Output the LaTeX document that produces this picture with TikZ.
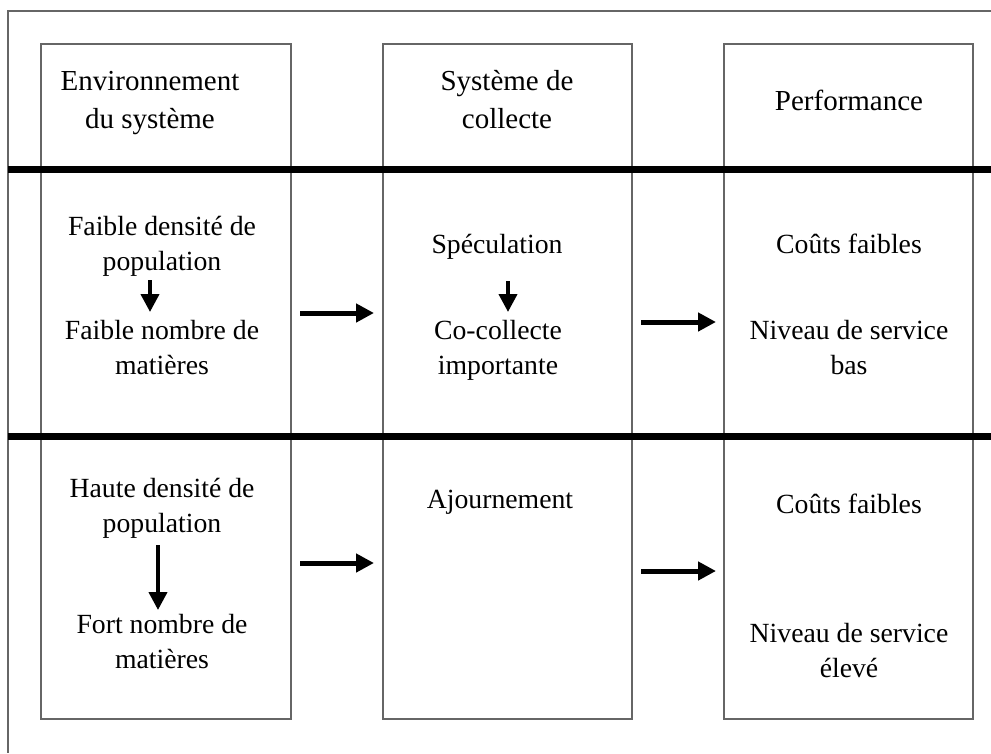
\documentclass[tikz,border=0pt]{standalone}
\usepackage{fontspec}
\setmainfont{Liberation Serif}
\usetikzlibrary{arrows.meta}

\tikzset{
  colbox/.style={draw=black!60, line width=1pt},
  sepline/.style={line width=5.25pt},
  harr/.style={line width=3.75pt, -{Triangle[length=13.5pt,width=13.5pt]}},
  varr/.style={line width=3pt, -{Triangle[length=13.5pt,width=13.5pt]}},
  hd/.style={align=center, anchor=base, inner sep=0pt, font=\fontsize{21.75}{28.5}\selectfont},
  txt/.style={align=center, anchor=base, inner sep=0pt, font=\fontsize{20.8}{26.25}\selectfont},
}

\begin{document}
\begin{tikzpicture}[x=0.75pt,y=-0.75pt]
\useasboundingbox (0,0) rectangle (991,753);
%\draw[step=50,gray,very thin] (0,0) grid (991,753);
\draw[draw=black!60, line width=0.9pt] (991,11) -- (8,11) -- (8,753);

% the three columns
\draw[colbox] (41,44) rectangle (291,719);
\draw[colbox] (383,44) rectangle (632,719);
\draw[colbox] (724,44) rectangle (973,719);

\draw[sepline] (8,169.5) -- (991,169.5);
\draw[sepline] (8,436) -- (991,436);

% headers (y = baseline of the last line)
\node[hd] (env) at (150,128) {Environnement\\du système};
\node[hd] (sys) at (507,128) {Système de\\collecte};
\node[hd] (perf) at (849,110) {Performance};

% first row
\node[txt] (fd1) at (162,270) {Faible densité de\\population};
\node[txt] (fn1) at (162,374) {Faible nombre de\\matières};
\node[txt] (spec) at (497,253) {Spéculation};
\node[txt] (cocol) at (498,374) {Co-collecte\\importante};
\node[txt] (couts1) at (849,253) {Coûts faibles};
\node[txt] (niv1) at (849,374) {Niveau de service\\bas};

\coordinate (v1a) at (150,280);  \coordinate (v1b) at (150,312);
\coordinate (v2a) at (508,281);  \coordinate (v2b) at (508,312);
\draw[varr] (v1a) -- (v1b);
\draw[varr] (v2a) -- (v2b);

\coordinate (h1a) at (300,313);  \coordinate (h1b) at (374,313);
\coordinate (h2a) at (641,322);  \coordinate (h2b) at (716,322);
\draw[harr] (h1a) -- (h1b);
\draw[harr] (h2a) -- (h2b);

% second row
\node[txt] (hd2) at (162,532) {Haute densité de\\population};
\node[txt] (fort2) at (162,668) {Fort nombre de\\matières};
\node[txt] (ajourn) at (500,508) {Ajournement};
\node[txt] (couts2) at (849,513) {Coûts faibles};
\node[txt] (niv2) at (849,677) {Niveau de service\\élevé};

\coordinate (v3a) at (158,545);  \coordinate (v3b) at (158,610);
\draw[varr] (v3a) -- (v3b);

\coordinate (h3a) at (300,563);  \coordinate (h3b) at (374,563);
\coordinate (h4a) at (641,571);  \coordinate (h4b) at (716,571);
\draw[harr] (h3a) -- (h3b);
\draw[harr] (h4a) -- (h4b);

\end{tikzpicture}
\end{document}
